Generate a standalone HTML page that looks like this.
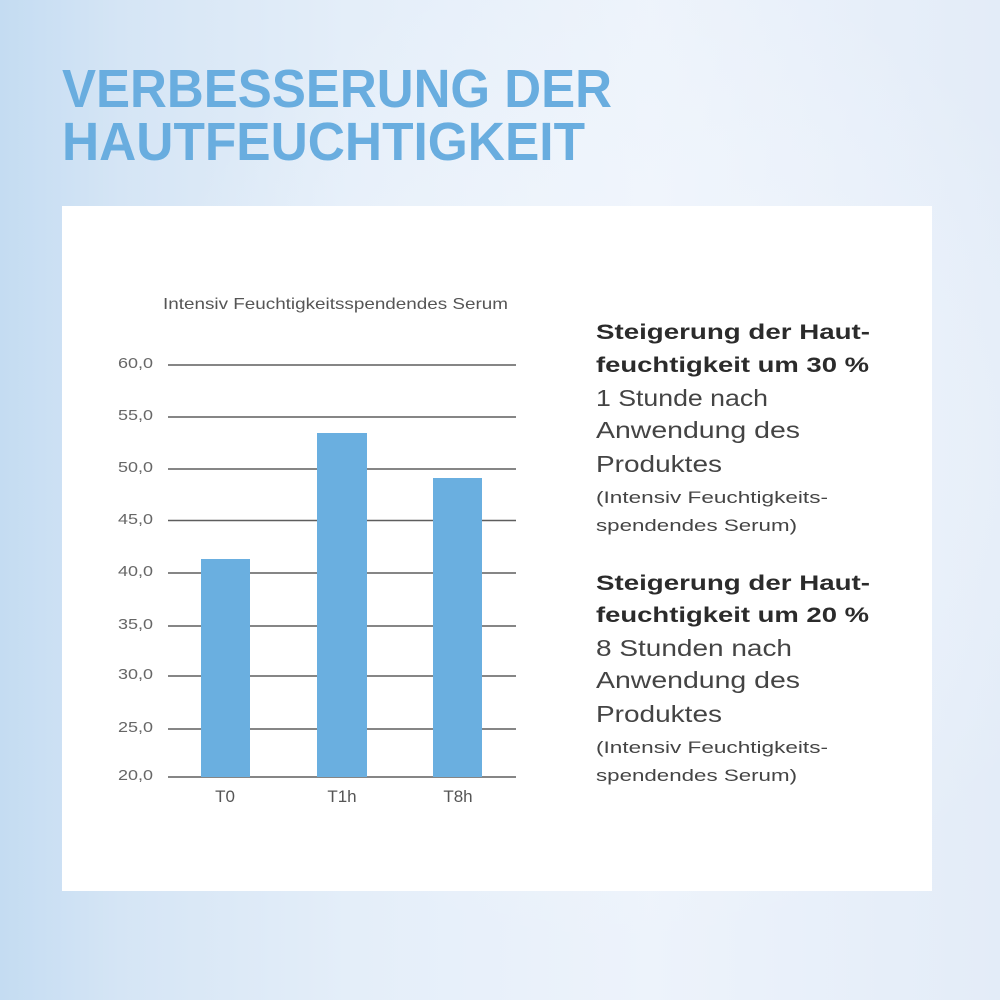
<!DOCTYPE html>
<html><head><meta charset="utf-8"><style>
html,body{margin:0;padding:0;width:1000px;height:1000px;overflow:hidden}
svg{display:block}
</style></head><body>
<svg width="1000" height="1000" viewBox="0 0 1000 1000" xmlns="http://www.w3.org/2000/svg">
<defs>
<linearGradient id="bg" x1="0" y1="0" x2="1" y2="0">
<stop offset="0" stop-color="#c4dcf2"/>
<stop offset="0.12" stop-color="#d5e5f5"/>
<stop offset="0.35" stop-color="#e4eef9"/>
<stop offset="0.65" stop-color="#edf3fb"/>
<stop offset="1" stop-color="#e3ecf8"/>
</linearGradient>
<radialGradient id="glow" cx="0.62" cy="0.45" r="0.5">
<stop offset="0" stop-color="#f4f8fd" stop-opacity="0.8"/>
<stop offset="1" stop-color="#f4f8fd" stop-opacity="0"/>
</radialGradient>
</defs>
<rect width="1000" height="1000" fill="url(#bg)"/>
<rect width="1000" height="1000" fill="url(#glow)"/>

<g font-family="Liberation Sans, sans-serif" font-weight="bold" fill="#69addf" font-size="54">
<text x="62" y="107" textLength="550" lengthAdjust="spacingAndGlyphs">VERBESSERUNG DER</text>
<text x="62" y="160" textLength="523" lengthAdjust="spacingAndGlyphs">HAUTFEUCHTIGKEIT</text>
</g>

<rect x="62" y="206" width="870" height="685" fill="#ffffff"/>

<text x="163" y="309" font-family="Liberation Sans, sans-serif" font-size="16" fill="#555" textLength="345" lengthAdjust="spacingAndGlyphs">Intensiv Feuchtigkeitsspendendes Serum</text>

<g stroke="#5e5e5e" stroke-width="1.4">
<line x1="168" y1="365" x2="516" y2="365"/>
<line x1="168" y1="417" x2="516" y2="417"/>
<line x1="168" y1="469" x2="516" y2="469"/>
<line x1="168" y1="520.5" x2="516" y2="520.5"/>
<line x1="168" y1="573" x2="516" y2="573"/>
<line x1="168" y1="626" x2="516" y2="626"/>
<line x1="168" y1="676" x2="516" y2="676"/>
<line x1="168" y1="729" x2="516" y2="729"/>
<line x1="168" y1="777" x2="516" y2="777"/>
</g>

<g fill="#6aafe0">
<rect x="201" y="559" width="49" height="218"/>
<rect x="317" y="433" width="50" height="344"/>
<rect x="433" y="478" width="49" height="299"/>
</g>

<g font-family="Liberation Sans, sans-serif" font-size="15" fill="#666">
<text x="118" y="368" textLength="35" lengthAdjust="spacingAndGlyphs">60,0</text>
<text x="118" y="420" textLength="35" lengthAdjust="spacingAndGlyphs">55,0</text>
<text x="118" y="472" textLength="35" lengthAdjust="spacingAndGlyphs">50,0</text>
<text x="118" y="524" textLength="35" lengthAdjust="spacingAndGlyphs">45,0</text>
<text x="118" y="576" textLength="35" lengthAdjust="spacingAndGlyphs">40,0</text>
<text x="118" y="629" textLength="35" lengthAdjust="spacingAndGlyphs">35,0</text>
<text x="118" y="679" textLength="35" lengthAdjust="spacingAndGlyphs">30,0</text>
<text x="118" y="732" textLength="35" lengthAdjust="spacingAndGlyphs">25,0</text>
<text x="118" y="780" textLength="35" lengthAdjust="spacingAndGlyphs">20,0</text>
</g>

<g font-family="Liberation Sans, sans-serif" font-size="17" fill="#555" text-anchor="middle">
<text x="225" y="802">T0</text>
<text x="342" y="802">T1h</text>
<text x="458" y="802">T8h</text>
</g>

<g font-family="Liberation Sans, sans-serif">
<g font-weight="bold" font-size="21" fill="#2b2b2b">
<text x="596" y="339" textLength="274" lengthAdjust="spacingAndGlyphs">Steigerung der Haut-</text>
<text x="596" y="372" textLength="273" lengthAdjust="spacingAndGlyphs">feuchtigkeit um 30 %</text>
<text x="596" y="590" textLength="274" lengthAdjust="spacingAndGlyphs">Steigerung der Haut-</text>
<text x="596" y="622" textLength="273" lengthAdjust="spacingAndGlyphs">feuchtigkeit um 20 %</text>
</g>
<g font-size="23" fill="#444">
<text x="596" y="406" textLength="172" lengthAdjust="spacingAndGlyphs">1 Stunde nach</text>
<text x="596" y="438" textLength="204" lengthAdjust="spacingAndGlyphs">Anwendung des</text>
<text x="596" y="472" textLength="126" lengthAdjust="spacingAndGlyphs">Produktes</text>
<text x="596" y="656" textLength="196" lengthAdjust="spacingAndGlyphs">8 Stunden nach</text>
<text x="596" y="688" textLength="204" lengthAdjust="spacingAndGlyphs">Anwendung des</text>
<text x="596" y="722" textLength="126" lengthAdjust="spacingAndGlyphs">Produktes</text>
</g>
<g font-size="17" fill="#444">
<text x="596" y="503" textLength="232" lengthAdjust="spacingAndGlyphs">(Intensiv Feuchtigkeits-</text>
<text x="596" y="531" textLength="201" lengthAdjust="spacingAndGlyphs">spendendes Serum)</text>
<text x="596" y="753" textLength="232" lengthAdjust="spacingAndGlyphs">(Intensiv Feuchtigkeits-</text>
<text x="596" y="781" textLength="201" lengthAdjust="spacingAndGlyphs">spendendes Serum)</text>
</g>
</g>
</svg>
</body></html>
